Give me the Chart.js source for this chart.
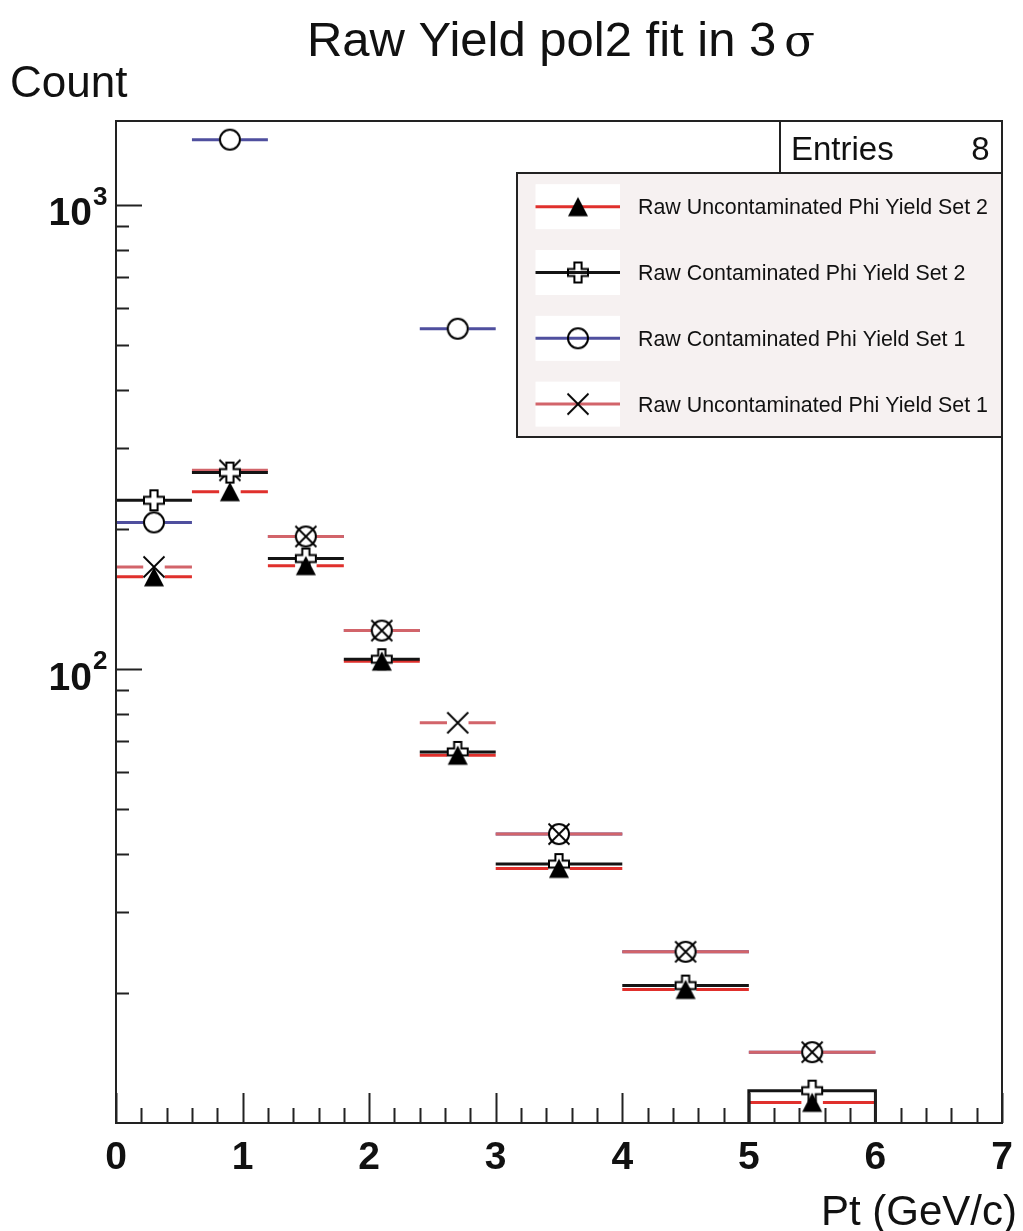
<!DOCTYPE html>
<html>
<head>
<meta charset="utf-8">
<title>Raw Yield pol2 fit in 3 sigma</title>
<script src="https://cdn.jsdelivr.net/npm/chart.js@4.4.1/dist/chart.umd.min.js"></script>
<style>
  html, body { margin: 0; padding: 0; background: #ffffff; }
  canvas { display: block; }
</style>
</head>
<body>
<canvas id="yieldChart" width="1023" height="1231"></canvas>
<script>
// Pt bins (GeV/c)
const binLow  = [0, 0.6, 1.2, 1.8, 2.4, 3, 4, 5];
const binHigh = [0.6, 1.2, 1.8, 2.4, 3, 4, 5, 6];

// Raw yields per bin
const uncontamSet2 = [158, 241, 167, 104, 65.2, 37.2, 20.4, 11.65];
const contamSet2   = [231, 265, 173, 105, 66.3, 38.0, 20.8, 12.35];
const contamSet1   = [207, 1382, 193, 121, 541, 44.1, 24.6, 14.95];
const uncontamSet1 = [166, 268, 193, 121, 76.6, 44.1, 24.6, 14.95];

const seriesNames = [
    'Raw Uncontaminated Phi Yield Set 2',
    'Raw Contaminated Phi Yield Set 2',
    'Raw Contaminated Phi Yield Set 1',
    'Raw Uncontaminated Phi Yield Set 1'
];
const entriesCount = 8;

const xTickLabels = [0, 1, 2, 3, 4, 5, 6, 7];
const yDecadeLabels = [2, 3];

const X_MIN = 0, X_MAX = 7;
const Y_MIN = 10.52, Y_MAX = 1516;

const RED = '#e0302c';
const LIGHT_RED = '#d2646a';
const BLUE = '#4f4f9e';
const BLACK = '#141414';
const FONT = '"Liberation Sans", Arial, Helvetica, sans-serif';

// half width of the hole left in the bin bar around each marker
const GAP = 0.085;

function binMid(i) { return (binLow[i] + binHigh[i]) / 2; }

// horizontal bar across each bin, broken around the marker
function barPoints(values, dropLastBin) {
    const pts = [];
    values.forEach((v, i) => {
        const last = dropLastBin && i === values.length - 1;
        if (last) pts.push({ x: binLow[i], y: Y_MIN });
        pts.push({ x: binLow[i], y: v }, { x: binMid(i) - GAP, y: v }, { x: binMid(i) - GAP, y: null });
        pts.push({ x: binMid(i) + GAP, y: v }, { x: binHigh[i], y: v });
        if (last) pts.push({ x: binHigh[i], y: Y_MIN });
        pts.push({ x: binHigh[i], y: null });
    });
    return pts;
}

function markerPoints(values) {
    return values.map((v, i) => ({ x: binMid(i), y: v }));
}

// ROOT-like marker images
function makeMarker(draw) {
    const c = document.createElement('canvas');
    c.width = 24; c.height = 24;
    const g = c.getContext('2d');
    g.translate(12, 12);
    draw(g);
    return c;
}

function crossPath(g) {
    const a = 10, w = 3.6;
    g.beginPath();
    g.moveTo(-w, -a); g.lineTo(w, -a); g.lineTo(w, -w); g.lineTo(a, -w);
    g.lineTo(a, w); g.lineTo(w, w); g.lineTo(w, a); g.lineTo(-w, a);
    g.lineTo(-w, w); g.lineTo(-a, w); g.lineTo(-a, -w); g.lineTo(-w, -w);
    g.closePath();
}

const triangleMarker = makeMarker(g => {
    g.beginPath();
    g.moveTo(0, -9.8); g.lineTo(10, 9.5); g.lineTo(-10, 9.5); g.closePath();
    g.fillStyle = '#000'; g.fill();
});
const crossMarker = makeMarker(g => {
    crossPath(g);
    g.fillStyle = '#fff'; g.fill();
    g.lineWidth = 2; g.strokeStyle = '#000'; g.stroke();
});
const crossMarkerHollow = makeMarker(g => {
    crossPath(g);
    g.lineWidth = 2; g.strokeStyle = '#000'; g.stroke();
});
const circleMarker = makeMarker(g => {
    g.beginPath(); g.arc(0, 0, 10, 0, Math.PI * 2);
    g.lineWidth = 2; g.strokeStyle = '#000'; g.stroke();
});
const xMarker = makeMarker(g => {
    g.beginPath();
    g.moveTo(-10.5, -10.5); g.lineTo(10.5, 10.5);
    g.moveTo(10.5, -10.5); g.lineTo(-10.5, 10.5);
    g.lineWidth = 1.8; g.strokeStyle = '#000'; g.stroke();
});

function barDataset(values, color, order, dropLastBin) {
    return {
        data: barPoints(values, dropLastBin),
        borderColor: color, borderWidth: 3, pointRadius: 0,
        spanGaps: false, tension: 0, fill: false, order: order
    };
}

function markerDataset(values, marker, order) {
    return {
        data: markerPoints(values), showLine: false,
        pointStyle: marker, pointRadius: 10, order: order
    };
}

// frame, ticks, labels, stats box and legend
const decorPlugin = {
    id: 'decor',
    beforeDraw(chart) {
        const ctx = chart.ctx;
        ctx.save();
        ctx.fillStyle = '#ffffff';
        ctx.fillRect(0, 0, chart.width, chart.height);
        ctx.restore();
    },
    afterDraw(chart) {
        const ctx = chart.ctx;
        const area = chart.chartArea;
        const xs = chart.scales.x, ys = chart.scales.y;
        ctx.save();

        // frame
        ctx.strokeStyle = '#222';
        ctx.lineWidth = 2;
        ctx.strokeRect(area.left, area.top, area.right - area.left, area.bottom - area.top);

        // x ticks
        ctx.beginPath();
        for (let k = 0; k <= 35; k++) {
            const v = k / 5;
            const px = Math.round(xs.getPixelForValue(v)) + 0.5;
            const len = k % 5 === 0 ? 30 : 15;
            ctx.moveTo(px, area.bottom);
            ctx.lineTo(px, area.bottom - len);
        }
        // y ticks (log)
        [10, 100, 1000].forEach(d => {
            for (let k = 1; k <= 9; k++) {
                const v = k * d;
                if (v < Y_MIN || v > Y_MAX) continue;
                const py = Math.round(ys.getPixelForValue(v)) + 0.5;
                const len = k === 1 ? 26 : 13;
                ctx.moveTo(area.left, py);
                ctx.lineTo(area.left + len, py);
            }
        });
        ctx.stroke();

        // x tick labels
        ctx.fillStyle = '#111';
        ctx.font = 'bold 39px ' + FONT;
        ctx.textAlign = 'center';
        ctx.textBaseline = 'alphabetic';
        xTickLabels.forEach(v => {
            ctx.fillText(String(v), xs.getPixelForValue(v), 1169);
        });

        // y tick labels 10^n
        yDecadeLabels.forEach(n => {
            const py = ys.getPixelForValue(Math.pow(10, n));
            ctx.font = 'bold 39px ' + FONT;
            ctx.textAlign = 'right';
            ctx.fillText('10', 92, py + 20.5);
            ctx.font = 'bold 26px ' + FONT;
            ctx.textAlign = 'left';
            ctx.fillText(String(n), 93, py);
        });

        // title and axis titles
        ctx.font = '49px ' + FONT;
        ctx.textAlign = 'left';
        const t1 = 'Raw Yield pol2 fit in 3';
        const w1 = ctx.measureText(t1).width;
        ctx.font = '45px "DejaVu Serif", serif';
        const wSig = ctx.measureText('\u03c3').width;
        const total = w1 + 8 + wSig;
        const tx = 561 - total / 2;
        ctx.font = '49px ' + FONT;
        ctx.fillText(t1, tx, 56);
        ctx.font = '45px "DejaVu Serif", serif';
        ctx.fillText('\u03c3', tx + w1 + 8, 56);

        ctx.font = '44px ' + FONT;
        ctx.fillText('Count', 10, 97);
        ctx.font = '42px ' + FONT;
        ctx.textAlign = 'right';
        ctx.fillText('Pt (GeV/c)', 1017, 1225);

        // stats box
        const sx = 780, sy = area.top, sw = area.right - 780, sh = 173 - area.top;
        ctx.fillStyle = '#ffffff';
        ctx.fillRect(sx, sy, sw, sh);
        ctx.strokeRect(sx, sy, sw, sh);
        ctx.fillStyle = '#111';
        ctx.font = '33px ' + FONT;
        ctx.textAlign = 'left';
        ctx.fillText('Entries', 791, 159.5);
        ctx.textAlign = 'right';
        ctx.fillText(String(entriesCount), 989.5, 159.5);

        // legend
        const lx = 517, ly = 173, lw = area.right - 517, lh = 437 - 173;
        ctx.fillStyle = '#f6f1f1';
        ctx.fillRect(lx, ly, lw, lh);
        ctx.strokeRect(lx, ly, lw, lh);
        const entries = [
            { color: RED, marker: triangleMarker },
            { color: BLACK, marker: crossMarkerHollow },
            { color: BLUE, marker: circleMarker },
            { color: LIGHT_RED, marker: xMarker }
        ];
        entries.forEach((e, i) => {
            const ry = 206.7 + i * 65.8;
            ctx.fillStyle = '#ffffff';
            ctx.fillRect(535.5, ry - 22.5, 84.5, 45);
            ctx.strokeStyle = e.color;
            ctx.lineWidth = 3;
            ctx.beginPath();
            ctx.moveTo(535.5, ry); ctx.lineTo(620, ry);
            ctx.stroke();
            ctx.drawImage(e.marker, 578 - 12, ry - 12);
            ctx.fillStyle = '#111';
            ctx.font = '21.4px ' + FONT;
            ctx.textAlign = 'left';
            ctx.fillText(seriesNames[i], 638, ry + 7.5);
        });

        ctx.restore();
    }
};

const ctx = document.getElementById('yieldChart').getContext('2d');
new Chart(ctx, {
    type: 'line',
    data: {
        datasets: [
            markerDataset(uncontamSet2, triangleMarker, 1),
            markerDataset(contamSet2, crossMarker, 2),
            markerDataset(uncontamSet1, xMarker, 3),
            markerDataset(contamSet1, circleMarker, 4),
            barDataset(contamSet2, BLACK, 5, true),
            barDataset(uncontamSet2, RED, 6, false),
            barDataset(uncontamSet1, LIGHT_RED, 7, false),
            barDataset(contamSet1, BLUE, 8, false)
        ]
    },
    options: {
        responsive: false,
        devicePixelRatio: 1,
        animation: false,
        layout: { padding: { left: 116, top: 121, right: 21, bottom: 108 } },
        plugins: {
            legend: { display: false },
            tooltip: { enabled: false },
            title: { display: false }
        },
        scales: {
            x: { type: 'linear', min: X_MIN, max: X_MAX, display: false },
            y: { type: 'logarithmic', min: Y_MIN, max: Y_MAX, display: false }
        }
    },
    plugins: [decorPlugin]
});
</script>
</body>
</html>
